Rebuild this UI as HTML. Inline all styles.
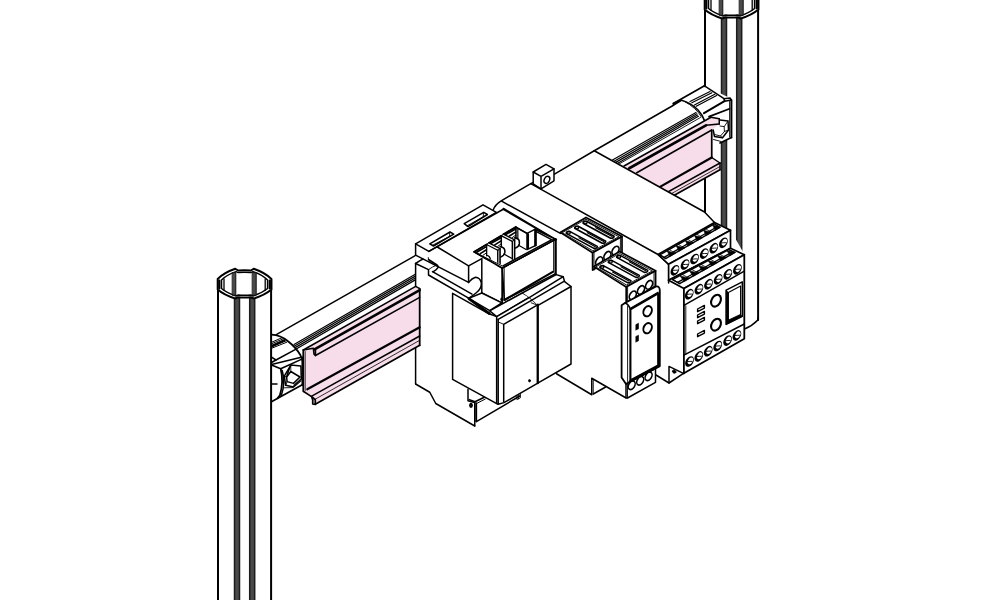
<!DOCTYPE html>
<html><head><meta charset="utf-8"><title>DIN rail assembly</title>
<style>
html,body{margin:0;padding:0;background:#fff;}
body{width:1000px;height:600px;overflow:hidden;font-family:"Liberation Sans",sans-serif;}
svg{display:block}
</style></head><body>
<svg width="1000" height="600" viewBox="0 0 1000 600" stroke-linejoin="round" stroke-linecap="round">
<rect width="1000" height="600" fill="#fff"/>
<path d="M704.70,-1.00 L704.70,320.00 L758.40,320.00 L758.40,-1.00Z" fill="#fff" stroke="none" stroke-width="1.1" />
<rect x="721.50" y="17.50" width="5.00" height="302.50" fill="#4a4a4a" stroke="#1c1c1c" stroke-width="1.5"/>
<rect x="736.70" y="17.50" width="5.00" height="302.50" fill="#4a4a4a" stroke="#1c1c1c" stroke-width="1.5"/>
<path d="M705.00,-1.00 L705.00,320.00" fill="none" stroke="#000" stroke-width="2.0" />
<path d="M758.10,-1.00 L758.10,320.00" fill="none" stroke="#000" stroke-width="2.0" />
<path d="M704.7,-1.0 Q711.0,-7.399999999999977 722.3,-11.199999999999989 L725.2,-9.5 Q731.5,-10.199999999999989 737.8,-9.5 L740.7,-11.199999999999989 Q752.0,-7.399999999999977 758.4,-1.0 L758.4,9.5 Q752.0,15.0 740.7,18.5 L737.8,17.19999999999999 Q731.5,18.0 725.2,17.19999999999999 L722.3,18.5 Q711.0,15.0 704.7,9.5 Z" fill="#fff" stroke="#000" stroke-width="2.0" />
<path d="M708.5,0.0 Q714.0,-5.5 723.0,-8.399999999999977 L725.3,-7.399999999999977 Q731.5,-8.100000000000023 737.7,-7.399999999999977 L740.0,-8.399999999999977 Q749.0,-5.5 754.6,0.0 L754.6,8.5 Q749.0,13.0 740.0,16.0 L737.7,15.0 Q731.5,15.699999999999989 725.3,15.0 L723.0,16.0 Q714.0,13.0 708.5,8.5 Z" fill="#fff" stroke="#000" stroke-width="1.5" />
<rect x="719.60" y="-7.40" width="3.20" height="22.60" fill="#4a4a4a" stroke="#111" stroke-width="1"/>
<rect x="739.60" y="-7.40" width="3.60" height="22.60" fill="#4a4a4a" stroke="#111" stroke-width="1"/>
<path d="M706.30,0.50 L706.30,8.50" fill="none" stroke="#000" stroke-width="2.2" />
<path d="M756.80,0.50 L756.80,8.50" fill="none" stroke="#000" stroke-width="2.2" />
<path d="M711.00,-1.00 L711.00,10.00" fill="none" stroke="#000" stroke-width="1.3" />
<path d="M752.20,-1.00 L752.20,10.00" fill="none" stroke="#000" stroke-width="1.3" />
<path d="M276.70,334.30 L415.70,255.30 L415.70,290.00 L303.00,352.00 L290.00,345.00Z" fill="#fff" stroke="none" stroke-width="1.1" />
<path d="M276.70,334.30 L415.70,255.30" fill="none" stroke="#000" stroke-width="1.5" />
<path d="M294.00,344.50 L415.70,274.00" fill="none" stroke="#000" stroke-width="1.25" />
<path d="M294.60,346.07 L415.70,275.88" fill="none" stroke="#000" stroke-width="1.25" />
<path d="M295.20,347.65 L415.70,277.75" fill="none" stroke="#000" stroke-width="1.25" />
<path d="M295.80,349.23 L415.70,279.62" fill="none" stroke="#000" stroke-width="1.25" />
<path d="M594.25,150.75 L673.50,105.25 L704.00,119.00 L640.00,175.00 L620.00,166.00Z" fill="#fff" stroke="none" stroke-width="1.1" />
<path d="M594.25,150.75 L673.50,105.25" fill="none" stroke="#000" stroke-width="1.5" />
<path d="M612.50,160.00 L696.00,112.50" fill="none" stroke="#000" stroke-width="1.2" />
<path d="M613.70,161.44 L696.80,113.78" fill="none" stroke="#000" stroke-width="1.2" />
<path d="M614.90,162.88 L697.60,115.06" fill="none" stroke="#000" stroke-width="1.2" />
<path d="M616.10,164.32 L698.40,116.34" fill="none" stroke="#000" stroke-width="1.2" />
<path d="M619.50,163.75 L700.50,117.50" fill="none" stroke="#000" stroke-width="0.9" />
<path d="M271,334.7 Q290,336 299.3,353.3 Q304.5,364 303,384.4 L271,402 Z" fill="#fff" stroke="none" stroke-width="1.1" />
<path d="M271.5,334.7 Q280.7,335.2 288,341.3 Q296,347.5 300.5,355.3 Q303.5,361 303.6,368" fill="none" stroke="#000" stroke-width="1.8" />
<path d="M302.20,357.00 L302.20,385.00" fill="none" stroke="#000" stroke-width="1.5" />
<path d="M303.60,352.00 L303.60,391.50" fill="none" stroke="#000" stroke-width="1.5" />
<path d="M271.50,342.30 L282.00,337.70" fill="none" stroke="#000" stroke-width="1.0" />
<path d="M271.50,343.80 L283.20,338.82" fill="none" stroke="#000" stroke-width="1.0" />
<path d="M271.50,345.30 L284.40,339.95" fill="none" stroke="#000" stroke-width="1.0" />
<path d="M271.50,346.80 L285.60,341.07" fill="none" stroke="#000" stroke-width="1.0" />
<path d="M271.50,348.30 L286.80,342.20" fill="none" stroke="#000" stroke-width="1.0" />
<path d="M271.50,346.50 L284.00,340.50" fill="none" stroke="#000" stroke-width="2.2" />
<path d="M271.5,357.2 L276,360 L295.6,349.3" fill="none" stroke="#000" stroke-width="1.5" />
<path d="M276,360 L271.5,362.5" fill="none" stroke="#000" stroke-width="1.5" />
<path d="M271.50,364.40 L300.20,357.50" fill="none" stroke="#000" stroke-width="1.5" />
<path d="M271.5,365 L280.7,368.8 L302.4,358.9" fill="none" stroke="#000" stroke-width="1.5" />
<path d="M280.7,368.8 Q284,382 279.8,395.4 L277.5,398.2" fill="none" stroke="#000" stroke-width="1.8" />
<path d="M282.2,370.5 Q285.8,382.5 281.2,396" fill="none" stroke="#000" stroke-width="1.5" />
<path d="M271.00,401.90 L302.70,384.40" fill="none" stroke="#000" stroke-width="1.7" />
<path d="M272.00,383.90 L277.00,383.90" fill="none" stroke="#000" stroke-width="1.5" />
<path d="M290.8,365.1 L300.9,366 L301.3,378.9 L293.5,387.1 L285.7,385.3 L284.3,376.1 Z" fill="none" stroke="#000" stroke-width="1.5" />
<path d="M290.8,371.5 L300,377 L293.5,383.4 L287.1,381.6 L286.6,377 Z" fill="none" stroke="#000" stroke-width="1.5" />
<path d="M290.80,365.10 L288.20,371.80" fill="none" stroke="#000" stroke-width="1.5" />
<path d="M288.20,371.80 L286.60,377.00" fill="none" stroke="#000" stroke-width="1.5" />
<path d="M290.80,371.50 L290.80,365.10" fill="none" stroke="#000" stroke-width="0.8" />
<path d="M293.50,385.30 L300.00,379.80" fill="none" stroke="#000" stroke-width="0.9" />
<path d="M294.60,386.40 L301.00,381.20" fill="none" stroke="#000" stroke-width="0.9" />
<path d="M284.30,376.10 L286.60,377.00" fill="none" stroke="#000" stroke-width="0.9" />
<path d="M285.70,385.30 L287.10,381.60" fill="none" stroke="#000" stroke-width="0.9" />
<path d="M284.50,387.80 L293.00,387.60" fill="none" stroke="#000" stroke-width="0.9" />
<path d="M673,104 L704.5,85.7 L730,98 L731.4,100 L731.4,137.5 L720,143 L706,130 L704,119 Q695,104 681.5,100 Z" fill="#fff" stroke="none" stroke-width="1.1" />
<path d="M673.30,103.60 L704.50,85.70" fill="none" stroke="#000" stroke-width="1.7" />
<path d="M673.3,103.4 L673.3,105.4 L681.5,100.6 L681.5,100 Z" fill="#000" stroke="#000" stroke-width="1.2" />
<path d="M681.5,100.3 Q691,103 698,110 Q703,115.5 704.6,121" fill="none" stroke="#000" stroke-width="1.7" />
<path d="M684.5,101.5 Q696,107.5 701.5,117" fill="none" stroke="#000" stroke-width="0.9" />
<path d="M690.00,101.50 L710.00,91.50" fill="none" stroke="#000" stroke-width="1.25" />
<path d="M691.82,102.76 L711.82,92.76" fill="none" stroke="#000" stroke-width="1.25" />
<path d="M694.40,105.00 L714.80,94.30" fill="none" stroke="#000" stroke-width="1.25" />
<path d="M696.22,106.26 L716.62,95.56" fill="none" stroke="#000" stroke-width="1.25" />
<path d="M704.50,85.90 L724.00,98.60" fill="none" stroke="#000" stroke-width="1.5" />
<path d="M704.00,113.20 L724.50,101.20" fill="none" stroke="#000" stroke-width="2.0" />
<path d="M724,98.7 L730,98 L731.4,100 L724.6,101.2 Z" fill="none" stroke="#000" stroke-width="1.5" />
<path d="M704.50,85.70 L704.50,86.50" fill="none" stroke="#000" stroke-width="1.5" />
<path d="M731.40,100.00 L731.40,137.60" fill="none" stroke="#000" stroke-width="2.0" />
<path d="M729.60,101.50 L729.60,137.00" fill="none" stroke="#000" stroke-width="0.9" />
<path d="M709.00,116.60 L729.60,108.80" fill="none" stroke="#000" stroke-width="1.7" />
<path d="M731.40,137.60 L720.00,142.90" fill="none" stroke="#000" stroke-width="1.7" />
<path d="M720,120 L728,121 L728.5,130 L722.5,137.8 L714.5,136.5 L713.2,130" fill="none" stroke="#000" stroke-width="1.5" />
<path d="M720,126 L724.2,126.6 L724.4,131.5 L720.5,136 L715,134.6" fill="none" stroke="#000" stroke-width="0.9" />
<path d="M728.00,121.00 L724.20,126.60" fill="none" stroke="#000" stroke-width="0.9" />
<path d="M728.50,130.00 L724.40,131.50" fill="none" stroke="#000" stroke-width="0.9" />
<path d="M722.50,137.80 L720.50,136.00" fill="none" stroke="#000" stroke-width="0.9" />
<path d="M713.50,139.50 L721.00,141.50" fill="none" stroke="#000" stroke-width="0.9" />
<path d="M624.00,166.00 L711.00,117.25 L719.25,118.75 L719.25,124.00 L711.75,130.00 L711.75,157.50 L720.00,163.00 L720.00,169.75 L660.00,203.50 L640.00,200.00Z" fill="#f7dde9" stroke="none" stroke-width="1.1" />
<path d="M624.00,166.00 L711.00,117.25" fill="none" stroke="#000" stroke-width="1.5" />
<path d="M711.00,117.25 L719.25,118.75" fill="none" stroke="#000" stroke-width="1.5" />
<path d="M719.25,118.75 L719.25,124.00" fill="none" stroke="#000" stroke-width="1.5" />
<path d="M629.25,168.25 L706.00,125.30" fill="none" stroke="#000" stroke-width="2.6" />
<path d="M706.00,125.30 L719.25,124.00" fill="none" stroke="#000" stroke-width="1.5" />
<path d="M636.75,172.75 L711.75,130.00" fill="none" stroke="#000" stroke-width="1.5" />
<path d="M711.75,130.00 L711.75,157.50" fill="none" stroke="#000" stroke-width="1.7" />
<path d="M645.00,195.40 L711.75,157.50" fill="none" stroke="#000" stroke-width="2.2" />
<path d="M711.75,157.50 L720.00,163.00" fill="none" stroke="#000" stroke-width="1.5" />
<path d="M650.00,201.90 L720.00,163.00" fill="none" stroke="#000" stroke-width="1.5" />
<path d="M655.00,202.80 L720.00,166.50" fill="none" stroke="#000" stroke-width="0.8" />
<path d="M660.00,203.30 L720.00,169.75" fill="none" stroke="#000" stroke-width="1.7" />
<path d="M720.00,163.00 L720.00,169.75" fill="none" stroke="#000" stroke-width="1.5" />
<path d="M217.70,279.00 L217.70,620.00 L271.40,620.00 L271.40,279.00Z" fill="#fff" stroke="none" stroke-width="1.1" />
<rect x="234.50" y="297.50" width="5.00" height="322.50" fill="#4a4a4a" stroke="#1c1c1c" stroke-width="1.5"/>
<rect x="249.70" y="297.50" width="5.00" height="322.50" fill="#4a4a4a" stroke="#1c1c1c" stroke-width="1.5"/>
<path d="M218.00,279.00 L218.00,620.00" fill="none" stroke="#000" stroke-width="2.0" />
<path d="M271.10,279.00 L271.10,620.00" fill="none" stroke="#000" stroke-width="2.0" />
<path d="M217.7,279 Q224,272.6 235.3,268.8 L238.2,270.5 Q244.5,269.8 250.8,270.5 L253.7,268.8 Q265,272.6 271.4,279 L271.4,289.5 Q265,295 253.7,298.5 L250.8,297.2 Q244.5,298 238.2,297.2 L235.3,298.5 Q224,295 217.7,289.5 Z" fill="#fff" stroke="#000" stroke-width="2.0" />
<path d="M221.5,280 Q227,274.5 236,271.6 L238.3,272.6 Q244.5,271.9 250.7,272.6 L253,271.6 Q262,274.5 267.6,280 L267.6,288.5 Q262,293 253,296 L250.7,295 Q244.5,295.7 238.3,295 L236,296 Q227,293 221.5,288.5 Z" fill="#fff" stroke="#000" stroke-width="1.5" />
<rect x="232.60" y="272.60" width="3.20" height="22.60" fill="#4a4a4a" stroke="#111" stroke-width="1"/>
<rect x="252.60" y="272.60" width="3.60" height="22.60" fill="#4a4a4a" stroke="#111" stroke-width="1"/>
<path d="M219.30,280.50 L219.30,288.50" fill="none" stroke="#000" stroke-width="2.2" />
<path d="M269.80,280.50 L269.80,288.50" fill="none" stroke="#000" stroke-width="2.2" />
<path d="M224.00,279.00 L224.00,290.00" fill="none" stroke="#000" stroke-width="1.3" />
<path d="M265.20,279.00 L265.20,290.00" fill="none" stroke="#000" stroke-width="1.3" />
<path d="M493.20,209.60 L501.20,200.80 L530.80,183.70 L533.20,182.30 L554.00,174.40 L594.25,150.75 L704.50,212.00 L714.50,222.50 L730.50,230.00 L744.60,254.80 L744.70,338.70 L684.00,373.00 L669.00,383.00 L656.00,375.00 L654.00,382.00 L627.50,398.00 L626.00,398.00 L591.75,394.75 L556.50,373.75 L556.50,240.00Z" fill="#fff" stroke="none" stroke-width="1.1" />
<path d="M493.2,210 Q495,204.5 501.2,200.8 L530.8,183.7" fill="none" stroke="#000" stroke-width="1.5" />
<path d="M530.8,183.7 L658,254.5 L668.6,264.3" fill="none" stroke="#000" stroke-width="1.5" />
<path d="M554.00,174.40 L594.25,150.75" fill="none" stroke="#000" stroke-width="1.5" />
<path d="M530.80,183.70 L533.20,182.30" fill="none" stroke="#000" stroke-width="1.5" />
<path d="M594.25,150.75 L704.5,212 L714.5,222.5" fill="none" stroke="#000" stroke-width="1.5" />
<path d="M501.60,201.20 L560.40,233.40" fill="none" stroke="#000" stroke-width="1.5" />
<path d="M503.50,208.50 L556.40,239.80" fill="none" stroke="#000" stroke-width="1.5" />
<path d="M533.20,172.00 L546.00,164.40 L554.00,168.80 L554.00,180.80 L541.00,188.80 L533.20,184.00Z" fill="#fff" stroke="#000" stroke-width="1.5" />
<path d="M533.2,172 L541,176.4 L554,168.8 M541,176.4 L541,188.8" fill="none" stroke="#000" stroke-width="1.5" />
<ellipse cx="546.90" cy="179.90" rx="2.6" ry="3.7" transform="rotate(25 546.90 179.90)" fill="none" stroke="#000" stroke-width="1.5"/>
<path d="M556.5,373.75 L591.75,394.75 L591.75,378.25 L625.7,397.75" fill="none" stroke="#000" stroke-width="1.5" />
<path d="M593.25,394 L605.25,387.25" fill="none" stroke="#000" stroke-width="1.5" />
<path d="M593.25,379.30 L593.25,394.00" fill="none" stroke="#000" stroke-width="0.9" />
<path d="M560.20,232.40 L586.00,217.40 L622.00,236.60 L592.60,252.80Z" fill="#fff" stroke="#000" stroke-width="1.7" />
<path d="M562.60,232.50 L586.00,219.20 L618.80,236.70 L593.20,250.60Z" fill="none" stroke="#000" stroke-width="0.9" />
<path d="M566.28,233.40 L593.88,248.40 Q597.53,248.45 597.32,246.40 L569.72,231.40 Q566.07,231.35 566.28,233.40Z" fill="#fff" stroke="#000" stroke-width="1.6" />
<path d="M578.92,237.85 L595.33,246.77" fill="none" stroke="#000" stroke-width="1.1" />
<ellipse cx="568.53" cy="232.69" rx="1.8" ry="1.35" transform="rotate(0 568.53 232.69)" fill="none" stroke="#000" stroke-width="1.3"/>
<path d="M574.68,228.20 L602.28,243.20 Q605.93,243.25 605.72,241.20 L578.12,226.20 Q574.47,226.15 574.68,228.20Z" fill="#fff" stroke="#000" stroke-width="1.6" />
<path d="M587.32,232.65 L603.73,241.57" fill="none" stroke="#000" stroke-width="1.1" />
<ellipse cx="576.93" cy="227.49" rx="1.8" ry="1.35" transform="rotate(0 576.93 227.49)" fill="none" stroke="#000" stroke-width="1.3"/>
<path d="M583.08,223.20 L610.68,238.20 Q614.33,238.25 614.12,236.20 L586.52,221.20 Q582.87,221.15 583.08,223.20Z" fill="#fff" stroke="#000" stroke-width="1.6" />
<path d="M595.72,227.65 L612.13,236.57" fill="none" stroke="#000" stroke-width="1.1" />
<ellipse cx="585.33" cy="222.49" rx="1.8" ry="1.35" transform="rotate(0 585.33 222.49)" fill="none" stroke="#000" stroke-width="1.3"/>
<path d="M592.60,252.80 L622.00,236.60 L622.00,253.90 L592.60,270.10Z" fill="#fff" stroke="#000" stroke-width="1.7" />
<path d="M594.00,253.10 L594.00,270.10" fill="none" stroke="#000" stroke-width="0.9" />
<path d="M620.40,237.80 L620.40,253.90" fill="none" stroke="#000" stroke-width="0.9" />
<ellipse cx="599.20" cy="261.20" rx="3.0" ry="4.7" transform="rotate(30 599.20 261.20)" fill="#fff" stroke="#000" stroke-width="1.7"/>
<ellipse cx="607.40" cy="255.80" rx="3.0" ry="4.7" transform="rotate(30 607.40 255.80)" fill="#fff" stroke="#000" stroke-width="1.7"/>
<ellipse cx="615.50" cy="250.60" rx="3.0" ry="4.7" transform="rotate(30 615.50 250.60)" fill="#fff" stroke="#000" stroke-width="1.7"/>
<path d="M593.80,266.60 L619.60,251.60 L655.60,270.80 L626.20,287.00Z" fill="#fff" stroke="#000" stroke-width="1.7" />
<path d="M596.20,266.70 L619.60,253.40 L652.40,270.90 L626.80,284.80Z" fill="none" stroke="#000" stroke-width="0.9" />
<path d="M599.88,267.60 L627.48,282.60 Q631.13,282.65 630.92,280.60 L603.32,265.60 Q599.67,265.55 599.88,267.60Z" fill="#fff" stroke="#000" stroke-width="1.6" />
<path d="M612.52,272.05 L628.93,280.97" fill="none" stroke="#000" stroke-width="1.1" />
<ellipse cx="602.13" cy="266.89" rx="1.8" ry="1.35" transform="rotate(0 602.13 266.89)" fill="none" stroke="#000" stroke-width="1.3"/>
<path d="M608.28,262.40 L635.88,277.40 Q639.53,277.45 639.32,275.40 L611.72,260.40 Q608.07,260.35 608.28,262.40Z" fill="#fff" stroke="#000" stroke-width="1.6" />
<path d="M620.92,266.85 L637.33,275.77" fill="none" stroke="#000" stroke-width="1.1" />
<ellipse cx="610.53" cy="261.69" rx="1.8" ry="1.35" transform="rotate(0 610.53 261.69)" fill="none" stroke="#000" stroke-width="1.3"/>
<path d="M616.68,257.40 L644.28,272.40 Q647.93,272.45 647.72,270.40 L620.12,255.40 Q616.47,255.35 616.68,257.40Z" fill="#fff" stroke="#000" stroke-width="1.6" />
<path d="M629.32,261.85 L645.73,270.77" fill="none" stroke="#000" stroke-width="1.1" />
<ellipse cx="618.93" cy="256.69" rx="1.8" ry="1.35" transform="rotate(0 618.93 256.69)" fill="none" stroke="#000" stroke-width="1.3"/>
<path d="M626.20,287.00 L655.60,270.80 L655.60,286.30 L626.20,302.50Z" fill="#fff" stroke="#000" stroke-width="1.7" />
<path d="M627.60,287.30 L627.60,302.50" fill="none" stroke="#000" stroke-width="0.9" />
<path d="M654.00,272.00 L654.00,286.30" fill="none" stroke="#000" stroke-width="0.9" />
<ellipse cx="632.80" cy="295.40" rx="3.0" ry="4.7" transform="rotate(30 632.80 295.40)" fill="#fff" stroke="#000" stroke-width="1.7"/>
<ellipse cx="641.00" cy="290.00" rx="3.0" ry="4.7" transform="rotate(30 641.00 290.00)" fill="#fff" stroke="#000" stroke-width="1.7"/>
<ellipse cx="649.10" cy="284.80" rx="3.0" ry="4.7" transform="rotate(30 649.10 284.80)" fill="#fff" stroke="#000" stroke-width="1.7"/>
<path d="M626.00,384.00 L654.20,369.00 L655.50,369.00 L655.50,382.30 L627.50,398.00 L626.00,398.00Z" fill="#fff" stroke="#000" stroke-width="1.5" />
<path d="M627.50,384.50 L627.50,398.00" fill="none" stroke="#000" stroke-width="0.9" />
<ellipse cx="631.70" cy="385.30" rx="3.0" ry="4.6" transform="rotate(30 631.70 385.30)" fill="#fff" stroke="#000" stroke-width="1.6"/>
<ellipse cx="640.20" cy="380.80" rx="3.0" ry="4.6" transform="rotate(30 640.20 380.80)" fill="#fff" stroke="#000" stroke-width="1.6"/>
<ellipse cx="648.60" cy="376.30" rx="3.0" ry="4.6" transform="rotate(30 648.60 376.30)" fill="#fff" stroke="#000" stroke-width="1.6"/>
<path d="M621.6,305.2 L625,303 L655.6,286.6 Q659.8,285.6 659.8,290.5 L659.8,366 L630.6,381.2 L626,384 L621.6,377.5 Z" fill="#fff" stroke="#000" stroke-width="1.8" />
<path d="M625,303 Q628.6,304 630.4,309.4" fill="none" stroke="#000" stroke-width="1.5" />
<path d="M627.60,306.00 L627.60,381.50" fill="none" stroke="#000" stroke-width="0.9" />
<path d="M630.40,309.40 L658.20,293.40 L658.20,365.40 L630.40,380.40Z" fill="#fff" stroke="#000" stroke-width="2.1" />
<path d="M630.80,308.00 L658.00,292.20" fill="none" stroke="#000" stroke-width="1.1" />
<path d="M630.40,381.20 L659.00,366.20" fill="none" stroke="#000" stroke-width="2.6" />
<ellipse cx="647.60" cy="311.20" rx="4.0" ry="5.3" transform="rotate(25 647.60 311.20)" fill="none" stroke="#000" stroke-width="2.0"/>
<ellipse cx="647.60" cy="328.20" rx="4.0" ry="5.3" transform="rotate(25 647.60 328.20)" fill="none" stroke="#000" stroke-width="2.0"/>
<path d="M636.00,324.60 L638.50,323.30 L638.50,328.80 L636.00,330.00Z" fill="#000" stroke="#000" stroke-width="0.6" />
<path d="M636.00,336.40 L638.50,335.20 L638.50,340.80 L636.00,342.00Z" fill="#000" stroke="#000" stroke-width="0.6" />
<path d="M658.00,254.50 L714.50,222.50 L730.50,230.20 L668.60,264.30Z" fill="#fff" stroke="#000" stroke-width="1.7" />
<path d="M659.80,254.90 L714.40,223.80 L719.80,227.30 L665.60,258.60Z" fill="#fff" stroke="#000" stroke-width="1.4" />
<path d="M669.76,256.20 L667.19,251.04 L675.18,253.07Z" fill="#000" stroke="#000" stroke-width="0.6" />
<path d="M664.04,257.39 L668.93,254.57" fill="none" stroke="#000" stroke-width="1.3" />
<path d="M660.16,254.69 L665.96,258.39" fill="none" stroke="#000" stroke-width="0.8" />
<path d="M678.79,250.98 L676.28,245.86 L684.21,247.85Z" fill="#000" stroke="#000" stroke-width="0.6" />
<path d="M673.09,252.18 L677.98,249.37" fill="none" stroke="#000" stroke-width="1.3" />
<path d="M669.26,249.51 L674.99,253.17" fill="none" stroke="#000" stroke-width="0.8" />
<path d="M687.82,245.77 L685.38,240.67 L693.24,242.64Z" fill="#000" stroke="#000" stroke-width="0.6" />
<path d="M682.15,246.97 L687.04,244.16" fill="none" stroke="#000" stroke-width="1.3" />
<path d="M678.36,244.33 L684.03,247.96" fill="none" stroke="#000" stroke-width="0.8" />
<path d="M696.86,240.55 L694.48,235.49 L702.28,237.42Z" fill="#000" stroke="#000" stroke-width="0.6" />
<path d="M691.20,241.77 L696.09,238.95" fill="none" stroke="#000" stroke-width="1.3" />
<path d="M687.46,239.14 L693.06,242.74" fill="none" stroke="#000" stroke-width="0.8" />
<path d="M705.89,235.33 L703.57,230.30 L711.31,232.20Z" fill="#000" stroke="#000" stroke-width="0.6" />
<path d="M700.25,236.56 L705.14,233.75" fill="none" stroke="#000" stroke-width="1.3" />
<path d="M696.56,233.96 L702.09,237.52" fill="none" stroke="#000" stroke-width="0.8" />
<path d="M714.92,230.12 L712.67,225.12 L720.34,226.99Z" fill="#000" stroke="#000" stroke-width="0.6" />
<path d="M709.31,231.35 L714.20,228.54" fill="none" stroke="#000" stroke-width="1.3" />
<path d="M705.66,228.78 L711.13,232.31" fill="none" stroke="#000" stroke-width="0.8" />
<path d="M668.60,264.30 L730.50,230.20 L730.50,248.20 L668.60,280.20Z" fill="#fff" stroke="#000" stroke-width="1.7" />
<g transform="rotate(31 674.90 270.30)"><ellipse cx="674.90" cy="270.30" rx="2.9" ry="4.9" fill="#000" stroke="#000" stroke-width="1.7"/><ellipse cx="675.36" cy="269.32" rx="2.26" ry="3.63" fill="#fff"/><path d="M673.30,271.38 L675.19,270.06 L677.07,268.83" fill="none" stroke="#000" stroke-width="0.8"/></g>
<g transform="rotate(31 685.00 264.50)"><ellipse cx="685.00" cy="264.50" rx="2.9" ry="4.9" fill="#000" stroke="#000" stroke-width="1.7"/><ellipse cx="685.46" cy="263.52" rx="2.26" ry="3.63" fill="#fff"/><path d="M683.40,265.58 L685.29,264.25 L687.17,263.03" fill="none" stroke="#000" stroke-width="0.8"/></g>
<g transform="rotate(31 694.60 259.00)"><ellipse cx="694.60" cy="259.00" rx="2.9" ry="4.9" fill="#000" stroke="#000" stroke-width="1.7"/><ellipse cx="695.06" cy="258.02" rx="2.26" ry="3.63" fill="#fff"/><path d="M693.00,260.08 L694.89,258.75 L696.77,257.53" fill="none" stroke="#000" stroke-width="0.8"/></g>
<g transform="rotate(31 704.20 253.60)"><ellipse cx="704.20" cy="253.60" rx="2.9" ry="4.9" fill="#000" stroke="#000" stroke-width="1.7"/><ellipse cx="704.66" cy="252.62" rx="2.26" ry="3.63" fill="#fff"/><path d="M702.61,254.68 L704.49,253.35 L706.38,252.13" fill="none" stroke="#000" stroke-width="0.8"/></g>
<g transform="rotate(31 713.80 248.20)"><ellipse cx="713.80" cy="248.20" rx="2.9" ry="4.9" fill="#000" stroke="#000" stroke-width="1.7"/><ellipse cx="714.26" cy="247.22" rx="2.26" ry="3.63" fill="#fff"/><path d="M712.20,249.28 L714.09,247.95 L715.97,246.73" fill="none" stroke="#000" stroke-width="0.8"/></g>
<g transform="rotate(31 723.40 242.80)"><ellipse cx="723.40" cy="242.80" rx="2.9" ry="4.9" fill="#000" stroke="#000" stroke-width="1.7"/><ellipse cx="723.86" cy="241.82" rx="2.26" ry="3.63" fill="#fff"/><path d="M721.80,243.88 L723.69,242.56 L725.57,241.33" fill="none" stroke="#000" stroke-width="0.8"/></g>
<path d="M668.60,280.20 L730.50,248.20 L744.30,254.80 L683.90,288.50Z" fill="#fff" stroke="#000" stroke-width="1.7" />
<path d="M672.40,279.60 L728.80,249.60 L734.80,252.50 L679.60,283.70Z" fill="#fff" stroke="#000" stroke-width="1.4" />
<path d="M683.83,281.31 L680.08,275.90 L689.35,278.19Z" fill="#000" stroke="#000" stroke-width="0.6" />
<path d="M677.63,282.37 L682.63,279.59" fill="none" stroke="#000" stroke-width="1.3" />
<path d="M672.78,279.40 L679.97,283.49" fill="none" stroke="#000" stroke-width="0.8" />
<path d="M693.03,276.11 L689.47,270.89 L698.55,272.99Z" fill="#000" stroke="#000" stroke-width="0.6" />
<path d="M686.89,277.23 L691.89,274.45" fill="none" stroke="#000" stroke-width="1.3" />
<path d="M682.18,274.40 L689.17,278.29" fill="none" stroke="#000" stroke-width="0.8" />
<path d="M702.23,270.91 L698.86,265.88 L707.75,267.79Z" fill="#000" stroke="#000" stroke-width="0.6" />
<path d="M696.15,272.09 L701.15,269.31" fill="none" stroke="#000" stroke-width="1.3" />
<path d="M691.58,269.40 L698.37,273.09" fill="none" stroke="#000" stroke-width="0.8" />
<path d="M711.43,265.71 L708.25,260.87 L716.95,262.59Z" fill="#000" stroke="#000" stroke-width="0.6" />
<path d="M705.41,266.95 L710.41,264.17" fill="none" stroke="#000" stroke-width="1.3" />
<path d="M700.98,264.40 L707.57,267.89" fill="none" stroke="#000" stroke-width="0.8" />
<path d="M720.63,260.51 L717.64,255.86 L726.15,257.39Z" fill="#000" stroke="#000" stroke-width="0.6" />
<path d="M714.67,261.81 L719.67,259.03" fill="none" stroke="#000" stroke-width="1.3" />
<path d="M710.38,259.40 L716.77,262.69" fill="none" stroke="#000" stroke-width="0.8" />
<path d="M729.83,255.31 L727.03,250.85 L735.35,252.19Z" fill="#000" stroke="#000" stroke-width="0.6" />
<path d="M723.93,256.67 L728.93,253.89" fill="none" stroke="#000" stroke-width="1.3" />
<path d="M719.78,254.40 L725.97,257.49" fill="none" stroke="#000" stroke-width="0.8" />
<path d="M683.90,288.50 L744.30,254.80 L744.30,338.70 L683.90,373.20Z" fill="#fff" stroke="#000" stroke-width="1.8" />
<path d="M683.90,305.40 L744.30,271.20" fill="none" stroke="#000" stroke-width="1.5" />
<g transform="rotate(31 689.20 294.20)"><ellipse cx="689.20" cy="294.20" rx="2.9" ry="4.9" fill="#000" stroke="#000" stroke-width="1.7"/><ellipse cx="689.66" cy="293.22" rx="2.26" ry="3.63" fill="#fff"/><path d="M687.61,295.28 L689.49,293.95 L691.38,292.73" fill="none" stroke="#000" stroke-width="0.8"/></g>
<g transform="rotate(31 698.90 289.20)"><ellipse cx="698.90" cy="289.20" rx="2.9" ry="4.9" fill="#000" stroke="#000" stroke-width="1.7"/><ellipse cx="699.36" cy="288.22" rx="2.26" ry="3.63" fill="#fff"/><path d="M697.30,290.28 L699.19,288.95 L701.07,287.73" fill="none" stroke="#000" stroke-width="0.8"/></g>
<g transform="rotate(31 708.50 284.20)"><ellipse cx="708.50" cy="284.20" rx="2.9" ry="4.9" fill="#000" stroke="#000" stroke-width="1.7"/><ellipse cx="708.96" cy="283.22" rx="2.26" ry="3.63" fill="#fff"/><path d="M706.90,285.28 L708.79,283.95 L710.67,282.73" fill="none" stroke="#000" stroke-width="0.8"/></g>
<g transform="rotate(31 718.10 279.30)"><ellipse cx="718.10" cy="279.30" rx="2.9" ry="4.9" fill="#000" stroke="#000" stroke-width="1.7"/><ellipse cx="718.56" cy="278.32" rx="2.26" ry="3.63" fill="#fff"/><path d="M716.50,280.38 L718.39,279.06 L720.27,277.83" fill="none" stroke="#000" stroke-width="0.8"/></g>
<g transform="rotate(31 727.80 274.30)"><ellipse cx="727.80" cy="274.30" rx="2.9" ry="4.9" fill="#000" stroke="#000" stroke-width="1.7"/><ellipse cx="728.26" cy="273.32" rx="2.26" ry="3.63" fill="#fff"/><path d="M726.20,275.38 L728.09,274.06 L729.97,272.83" fill="none" stroke="#000" stroke-width="0.8"/></g>
<g transform="rotate(31 737.40 269.30)"><ellipse cx="737.40" cy="269.30" rx="2.9" ry="4.9" fill="#000" stroke="#000" stroke-width="1.7"/><ellipse cx="737.86" cy="268.32" rx="2.26" ry="3.63" fill="#fff"/><path d="M735.80,270.38 L737.69,269.06 L739.57,267.83" fill="none" stroke="#000" stroke-width="0.8"/></g>
<path d="M683.90,355.20 L744.30,324.00" fill="none" stroke="#000" stroke-width="1.5" />
<g transform="rotate(31 689.50 361.50)"><ellipse cx="689.50" cy="361.50" rx="2.9" ry="4.9" fill="#000" stroke="#000" stroke-width="1.7"/><ellipse cx="689.96" cy="360.52" rx="2.26" ry="3.63" fill="#fff"/><path d="M687.90,362.58 L689.79,361.25 L691.67,360.03" fill="none" stroke="#000" stroke-width="0.8"/></g>
<g transform="rotate(31 698.80 356.40)"><ellipse cx="698.80" cy="356.40" rx="2.9" ry="4.9" fill="#000" stroke="#000" stroke-width="1.7"/><ellipse cx="699.26" cy="355.42" rx="2.26" ry="3.63" fill="#fff"/><path d="M697.20,357.48 L699.09,356.15 L700.97,354.93" fill="none" stroke="#000" stroke-width="0.8"/></g>
<g transform="rotate(31 708.20 351.20)"><ellipse cx="708.20" cy="351.20" rx="2.9" ry="4.9" fill="#000" stroke="#000" stroke-width="1.7"/><ellipse cx="708.66" cy="350.22" rx="2.26" ry="3.63" fill="#fff"/><path d="M706.61,352.28 L708.49,350.95 L710.38,349.73" fill="none" stroke="#000" stroke-width="0.8"/></g>
<g transform="rotate(31 717.70 346.00)"><ellipse cx="717.70" cy="346.00" rx="2.9" ry="4.9" fill="#000" stroke="#000" stroke-width="1.7"/><ellipse cx="718.16" cy="345.02" rx="2.26" ry="3.63" fill="#fff"/><path d="M716.11,347.08 L717.99,345.75 L719.88,344.53" fill="none" stroke="#000" stroke-width="0.8"/></g>
<g transform="rotate(31 727.60 340.60)"><ellipse cx="727.60" cy="340.60" rx="2.9" ry="4.9" fill="#000" stroke="#000" stroke-width="1.7"/><ellipse cx="728.06" cy="339.62" rx="2.26" ry="3.63" fill="#fff"/><path d="M726.00,341.68 L727.89,340.36 L729.77,339.13" fill="none" stroke="#000" stroke-width="0.8"/></g>
<g transform="rotate(31 736.90 335.40)"><ellipse cx="736.90" cy="335.40" rx="2.9" ry="4.9" fill="#000" stroke="#000" stroke-width="1.7"/><ellipse cx="737.36" cy="334.42" rx="2.26" ry="3.63" fill="#fff"/><path d="M735.30,336.48 L737.19,335.15 L739.07,333.93" fill="none" stroke="#000" stroke-width="0.8"/></g>
<path d="M685.80,305.80 L685.80,354.60" fill="none" stroke="#000" stroke-width="0.9" />
<path d="M726.20,290.20 L742.30,281.80 L742.30,316.40 L726.20,324.40Z" fill="#fff" stroke="#000" stroke-width="1.4" />
<path d="M726.20,290.20 L728.40,292.40 L728.40,320.20 L740.60,314.40 L742.30,316.40 L726.20,324.40Z" fill="#000" stroke="#000" stroke-width="0.6" />
<path d="M728.40,292.40 L740.60,286.00 L740.60,314.40 L728.40,320.20Z" fill="#fff" stroke="#000" stroke-width="1.1" />
<ellipse cx="716.00" cy="300.70" rx="4.4" ry="6.3" transform="rotate(30 716.00 300.70)" fill="none" stroke="#000" stroke-width="2.1"/>
<ellipse cx="716.00" cy="324.70" rx="4.4" ry="6.3" transform="rotate(30 716.00 324.70)" fill="none" stroke="#000" stroke-width="2.1"/>
<path d="M697.60,309.00 L704.40,305.40 L704.40,308.10 L697.60,311.70Z" fill="#fff" stroke="#000" stroke-width="1.4" />
<path d="M697.60,315.00 L704.40,311.40 L704.40,314.10 L697.60,317.70Z" fill="#fff" stroke="#000" stroke-width="1.4" />
<path d="M697.60,321.00 L704.40,317.40 L704.40,320.10 L697.60,323.70Z" fill="#fff" stroke="#000" stroke-width="1.4" />
<path d="M697.60,334.00 L704.40,330.40 L704.40,333.10 L697.60,336.70Z" fill="#fff" stroke="#000" stroke-width="1.4" />
<path d="M656,375 L669,383 L683.9,373.2" fill="none" stroke="#000" stroke-width="1.5" />
<path d="M669,383 L669,366.4 L683.9,373.6" fill="none" stroke="#000" stroke-width="1.5" />
<ellipse cx="674.20" cy="371.60" rx="1.9" ry="1.5" transform="rotate(30 674.20 371.60)" fill="#000" stroke="#000" stroke-width="0.8"/>
<path d="M668.60,280.20 L668.60,283.00" fill="none" stroke="#000" stroke-width="1.5" />
<path d="M757.9,318 L757.9,320 Q752,326 745,328.8" fill="none" stroke="#000" stroke-width="1.7" />
<path d="M415.60,243.80 L483.00,204.80 L496.40,212.40 L503.25,209.25 L553.50,238.60 L556.20,239.20 L556.20,274.00 L563.20,276.70 L571.00,286.50 L571.00,364.00 L537.40,383.40 L519.75,396.00 L476.25,421.50 L474.75,426.00 L435.75,403.50 L429.75,392.25 L415.60,384.00Z" fill="#fff" stroke="none" stroke-width="1.1" />
<path d="M415.60,243.80 L483.00,204.80 L496.40,212.40 L428.90,251.40Z" fill="#fff" stroke="#000" stroke-width="1.5" />
<path d="M428.90,251.40 L503.25,209.25" fill="none" stroke="#000" stroke-width="1.5" />
<path d="M437.25,247.00 L468.60,265.80" fill="none" stroke="#000" stroke-width="1.5" />
<path d="M503.25,209.25 L553.50,238.60" fill="none" stroke="#000" stroke-width="1.5" />
<path d="M468.60,265.80 L481.80,258.60" fill="none" stroke="#000" stroke-width="1.5" />
<path d="M415.60,243.80 L415.60,255.20" fill="none" stroke="#000" stroke-width="1.5" />
<path d="M415.60,255.20 L468.60,282.40" fill="none" stroke="#000" stroke-width="1.5" />
<path d="M468.60,265.80 L468.60,282.40" fill="none" stroke="#000" stroke-width="1.5" />
<path d="M429.80,243.80 L450.00,232.00 L453.70,234.20 L433.50,246.00Z" fill="#fff" stroke="#000" stroke-width="1.5" />
<path d="M432.60,245.20 L449.65,236.40" fill="none" stroke="#000" stroke-width="0.9" />
<path d="M449.65,232.30 L449.65,236.40" fill="none" stroke="#000" stroke-width="0.9" />
<path d="M464.20,223.60 L483.70,212.30 L487.40,214.50 L468.00,226.60Z" fill="#fff" stroke="#000" stroke-width="1.5" />
<path d="M467.10,225.80 L483.35,216.70" fill="none" stroke="#000" stroke-width="0.9" />
<path d="M483.35,212.60 L483.35,216.70" fill="none" stroke="#000" stroke-width="0.9" />
<path d="M415.60,263.50 L415.60,384.00" fill="none" stroke="#000" stroke-width="1.5" />
<path d="M415.6,263.5 L420,260.6 L423,259" fill="none" stroke="#000" stroke-width="1.5" />
<path d="M415.6,263.5 L428.5,269.6 L428.5,275 L468.6,298.2" fill="none" stroke="#000" stroke-width="1.5" />
<path d="M432.50,271.60 L472.00,294.20" fill="none" stroke="#000" stroke-width="1.5" />
<path d="M428.5,259.5 L437,265 Q440.5,267.5 433,271.8" fill="none" stroke="#000" stroke-width="1.5" />
<path d="M429,261.4 L436,265.8" fill="none" stroke="#000" stroke-width="0.9" />
<path d="M428.5,259.5 L428.3,257.6" fill="none" stroke="#000" stroke-width="0.9" />
<path d="M428.5,269.6 Q432,266.8 437,265" fill="none" stroke="#000" stroke-width="0.9" />
<path d="M468.6,282.4 Q472,278.2 475.5,277.3 Q480,277.5 481.4,283 Q481.5,289 476,293 Q472.5,296 468.8,298.2" fill="none" stroke="#000" stroke-width="1.5" />
<path d="M415.6,384 L429.75,392.25 L435.75,403.5 L474.75,426" fill="none" stroke="#000" stroke-width="1.5" />
<path d="M474.75,402.5 L474.75,426 M476.4,403 L476.4,421.6" fill="none" stroke="#000" stroke-width="1.5" />
<path d="M476.40,421.60 L519.75,396.00" fill="none" stroke="#000" stroke-width="1.5" />
<path d="M468,389.3 L468,400.7 L474.5,402.4" fill="none" stroke="#000" stroke-width="1.5" />
<path d="M469.3,399.6 L475,401.7 L484.3,397.2" fill="none" stroke="#000" stroke-width="1.5" />
<path d="M477.00,403.30 L485.30,399.00" fill="none" stroke="#000" stroke-width="1.0" />
<ellipse cx="471.00" cy="405.30" rx="1.3" ry="2.0" transform="rotate(0 471.00 405.30)" fill="#111" stroke="#000" stroke-width="1.2"/>
<path d="M516.9,395.6 L516.9,399.6 L520.4,397.8 L520.4,393.6 M518.6,394.6 L518.6,398.8" fill="none" stroke="#000" stroke-width="0.9" />
<path d="M452.60,293.30 L489.00,313.80 L496.70,316.60 L496.70,403.60 L452.60,379.40Z" fill="#fff" stroke="#000" stroke-width="1.5" />
<path d="M474.10,251.80 L502.20,268.00 L502.20,302.60 L481.80,293.00 L481.80,258.60Z" fill="#fff" stroke="none" stroke-width="1.1" />
<path d="M481.80,258.60 L481.80,293.00" fill="none" stroke="#000" stroke-width="1.5" />
<path d="M481.80,293.00 L501.80,302.80" fill="none" stroke="#000" stroke-width="1.5" />
<path d="M502.20,268.00 L555.60,239.20 L555.60,273.60 L504.40,300.00Z" fill="#fff" stroke="#000" stroke-width="1.5" />
<path d="M502.20,268.00 L502.20,302.60" fill="none" stroke="#000" stroke-width="1.8" />
<path d="M504.20,268.50 L504.20,300.00" fill="none" stroke="#000" stroke-width="0.9" />
<path d="M553.60,241.00 L553.60,272.00" fill="none" stroke="#000" stroke-width="0.9" />
<path d="M555.60,239.20 L555.60,273.80" fill="none" stroke="#000" stroke-width="2.1" />
<path d="M504.40,300.00 L552.80,271.80" fill="none" stroke="#000" stroke-width="2.1" />
<ellipse cx="501.60" cy="299.40" rx="0.9" ry="1.5" transform="rotate(0 501.60 299.40)" fill="#000" stroke="#000" stroke-width="0.8"/>
<path d="M474.10,251.80 L516.10,227.40 L527.00,233.40 L534.90,229.30 L555.60,239.20 L502.20,268.00Z" fill="#fff" stroke="#000" stroke-width="1.5" />
<path d="M527,233.4 L527,249.6 L535.4,245.6 M528.3,234 L528.3,249" fill="none" stroke="#000" stroke-width="1.5" />
<path d="M534.9,229.3 L534.9,245.8 M536.1,230.4 L536.1,245.4" fill="none" stroke="#000" stroke-width="1.5" />
<path d="M536.4,231.6 L551.6,239.6" fill="none" stroke="#000" stroke-width="1.5" />
<path d="M503.39,234.11 L515.64,226.86" fill="none" stroke="#000" stroke-width="1.7" />
<path d="M505.79,234.61 L515.64,228.96" fill="none" stroke="#000" stroke-width="1.6" />
<path d="M509.39,236.01 L515.64,232.06" fill="none" stroke="#000" stroke-width="1.6" />
<path d="M512.39,237.51 L515.64,235.16" fill="none" stroke="#000" stroke-width="1.0" />
<path d="M515.94,227.16 L515.94,238.06" fill="none" stroke="#000" stroke-width="1.6" />
<path d="M517.84,228.86 L517.84,239.46" fill="none" stroke="#000" stroke-width="1.2" />
<path d="M515.64,226.86 L527.00,233.40" fill="none" stroke="#000" stroke-width="1.3" />
<path d="M488.82,242.93 L501.07,235.68" fill="none" stroke="#000" stroke-width="1.7" />
<path d="M491.22,243.43 L501.07,237.78" fill="none" stroke="#000" stroke-width="1.6" />
<path d="M494.82,244.83 L501.07,240.88" fill="none" stroke="#000" stroke-width="1.6" />
<path d="M497.82,246.33 L501.07,243.98" fill="none" stroke="#000" stroke-width="1.0" />
<path d="M501.37,235.98 L501.37,246.88" fill="none" stroke="#000" stroke-width="1.6" />
<path d="M503.27,237.68 L503.27,248.28" fill="none" stroke="#000" stroke-width="1.2" />
<path d="M514.62,237.88 Q520.22,238.28 519.32,243.88 Q518.62,247.08 515.42,248.08" fill="#fff" stroke="#000" stroke-width="1.6" />
<path d="M519.02,245.48 L526.12,249.48" fill="none" stroke="#000" stroke-width="1.3" />
<path d="M502.07,236.28 L503.37,234.13 L514.62,239.88 L514.62,259.30 L502.07,259.30Z" fill="#fff" stroke="none" stroke-width="1.1" />
<path d="M501.07,235.68 L512.32,241.43" fill="none" stroke="#000" stroke-width="1.3" />
<path d="M503.37,234.13 L514.62,239.88" fill="none" stroke="#000" stroke-width="1.3" />
<path d="M512.32,241.43 L512.32,259.30" fill="none" stroke="#000" stroke-width="1.4" />
<path d="M514.62,239.88 L514.62,259.30" fill="none" stroke="#000" stroke-width="1.6" />
<path d="M512.32,241.43 L514.62,239.88" fill="none" stroke="#000" stroke-width="1.0" />
<path d="M474.25,251.75 L486.50,244.50" fill="none" stroke="#000" stroke-width="1.7" />
<path d="M476.65,252.25 L486.50,246.60" fill="none" stroke="#000" stroke-width="1.6" />
<path d="M480.25,253.65 L486.50,249.70" fill="none" stroke="#000" stroke-width="1.6" />
<path d="M483.25,255.15 L486.50,252.80" fill="none" stroke="#000" stroke-width="1.0" />
<path d="M486.80,244.80 L486.80,255.70" fill="none" stroke="#000" stroke-width="1.6" />
<path d="M488.70,246.50 L488.70,257.10" fill="none" stroke="#000" stroke-width="1.2" />
<path d="M500.05,246.70 Q505.65,247.10 504.75,252.70 Q504.05,255.90 500.85,256.90" fill="#fff" stroke="#000" stroke-width="1.6" />
<path d="M504.45,254.30 L511.55,258.30" fill="none" stroke="#000" stroke-width="1.3" />
<path d="M487.50,245.10 L488.80,242.95 L500.05,248.70 L500.05,265.60 L487.50,265.60Z" fill="#fff" stroke="none" stroke-width="1.1" />
<path d="M486.50,244.50 L497.75,250.25" fill="none" stroke="#000" stroke-width="1.3" />
<path d="M488.80,242.95 L500.05,248.70" fill="none" stroke="#000" stroke-width="1.3" />
<path d="M497.75,250.25 L497.75,265.60" fill="none" stroke="#000" stroke-width="1.4" />
<path d="M500.05,248.70 L500.05,265.60" fill="none" stroke="#000" stroke-width="1.6" />
<path d="M497.75,250.25 L500.05,248.70" fill="none" stroke="#000" stroke-width="1.0" />
<path d="M486.6,255.4 Q490,255.6 490.6,260.2" fill="none" stroke="#000" stroke-width="1.4" />
<path d="M474.10,251.80 L477.60,253.40 L503.40,265.60 L551.40,239.80 L555.60,239.20 L502.20,268.00Z" fill="#fff" stroke="none" stroke-width="1.1" />
<path d="M477.40,253.60 L503.00,266.20" fill="none" stroke="#000" stroke-width="0.9" />
<path d="M503.4,265.6 L551.4,239.8" fill="none" stroke="#000" stroke-width="1.5" />
<path d="M502.20,268.00 L555.60,239.20" fill="none" stroke="#000" stroke-width="1.7" />
<path d="M474.10,251.80 L502.20,268.00" fill="none" stroke="#000" stroke-width="1.7" />
<path d="M551.40,239.80 L555.60,239.20" fill="none" stroke="#000" stroke-width="0.9" />
<path d="M468.80,298.40 L481.80,293.00 L501.80,302.80 L489.70,310.60Z" fill="#fff" stroke="#000" stroke-width="1.5" />
<path d="M468.80,298.60 L489.40,313.60" fill="none" stroke="#000" stroke-width="2.6" />
<path d="M505.00,302.60 L556.20,274.60" fill="none" stroke="#000" stroke-width="1.5" />
<path d="M489.70,310.80 L522.60,292.80 L529.60,297.20 L496.70,316.60Z" fill="#fff" stroke="#000" stroke-width="1.5" />
<path d="M496.70,316.60 L529.60,297.40 L537.40,304.40 L537.40,383.40 L504.00,402.60 L498.20,404.20 L496.70,403.60Z" fill="#fff" stroke="#000" stroke-width="1.5" />
<path d="M498.20,319.40 L531.00,300.60" fill="none" stroke="#000" stroke-width="1.5" />
<path d="M498.20,319.40 L498.20,404.20" fill="none" stroke="#000" stroke-width="1.5" />
<path d="M503.7,401.8 L503.7,324.3 L536.8,305.4" fill="none" stroke="#000" stroke-width="1.5" />
<path d="M498.80,322.20 L503.70,324.30" fill="none" stroke="#000" stroke-width="0.9" />
<ellipse cx="529.50" cy="380.70" rx="1.0" ry="1.2" transform="rotate(0 529.50 380.70)" fill="#000" stroke="#000" stroke-width="0.8"/>
<path d="M522.60,292.80 L556.20,274.60 L563.20,276.70 L564.60,281.40 L571.00,286.50 L571.00,364.00 L538.20,382.80 L538.20,305.40 L529.60,297.40Z" fill="#fff" stroke="none" stroke-width="1.1" />
<path d="M522.60,292.80 L556.20,274.60" fill="none" stroke="#000" stroke-width="1.5" />
<path d="M556.2,274.6 L563.2,276.7 L564.6,281.6 L571,286.5 L571,364 L538.2,382.8" fill="none" stroke="#000" stroke-width="1.5" />
<path d="M529.60,297.30 L563.20,276.70" fill="none" stroke="#000" stroke-width="1.5" />
<path d="M531.00,300.60 L564.40,281.20" fill="none" stroke="#000" stroke-width="1.5" />
<path d="M538.00,305.40 L571.00,286.50" fill="none" stroke="#000" stroke-width="1.5" />
<path d="M537.90,304.60 L537.90,383.20" fill="none" stroke="#000" stroke-width="2.0" />
<path d="M531.20,302.80 L538.00,305.40" fill="none" stroke="#000" stroke-width="0.9" />
<path d="M303.30,350.00 L415.70,286.40 L419.70,288.70 L419.70,345.30 L315.30,404.30 L312.70,404.00 L311.50,397.00 L303.30,391.30Z" fill="#f7dde9" stroke="none" stroke-width="1.1" />
<path d="M303.30,350.00 L415.70,286.40" fill="none" stroke="#000" stroke-width="1.5" />
<path d="M415.70,286.40 L419.70,288.70" fill="none" stroke="#000" stroke-width="1.5" />
<path d="M419.70,288.70 L419.70,345.30" fill="none" stroke="#000" stroke-width="1.8" />
<path d="M314.50,349.30 L419.70,290.20" fill="none" stroke="#000" stroke-width="2.6" />
<path d="M315.50,355.50 L419.70,297.30" fill="none" stroke="#000" stroke-width="1.5" />
<path d="M307.30,389.30 L419.70,327.30" fill="none" stroke="#000" stroke-width="2.2" />
<path d="M311.30,396.30 L419.70,336.00" fill="none" stroke="#000" stroke-width="1.5" />
<path d="M314.70,399.50 L419.70,340.30" fill="none" stroke="#000" stroke-width="0.8" />
<path d="M315.30,404.30 L419.70,345.30" fill="none" stroke="#000" stroke-width="1.7" />
<path d="M303.3,350 L303.3,391.3 L311.5,396.6 Q313.5,400 312.7,404 L315.3,404.3 L315.3,399.6 L312,397" fill="none" stroke="#000" stroke-width="1.7" />
<path d="M303.3,350 L313.3,348.2 L314,354.2 L315.5,355.6 L315.5,349.6" fill="none" stroke="#000" stroke-width="1.5" />
<path d="M305.20,351.50 L305.20,390.50" fill="none" stroke="#000" stroke-width="0.8" />
</svg>
</body></html>
